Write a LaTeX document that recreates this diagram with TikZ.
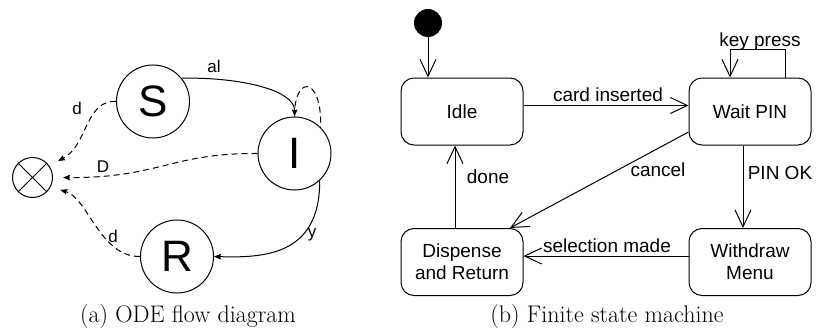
\documentclass[tikz,border=0pt]{standalone}
\usepackage{fontspec}
\newfontfamily\arialf{Liberation Sans}
\usetikzlibrary{arrows.meta}
\begin{document}
\begin{tikzpicture}[x=1pt,y=-1pt,
  lbl/.style={font=\arialf\fontsize{17}{20}\selectfont, inner sep=0pt},
  big/.style={circle, draw, line width=1pt, minimum size=73pt, inner sep=0pt, font=\arialf\fontsize{44}{44}\selectfont},
  flow/.style={line width=1pt, -{Stealth[length=7pt,width=5.5pt,inset=1pt]}},
  dflow/.style={flow, dash pattern=on 6pt off 4pt, shorten >=10pt},
  dloop/.style={line width=1pt, dash pattern=on 6pt off 4pt},
  state/.style={draw, rounded corners=13pt, line width=1pt, minimum width=122pt, minimum height=67pt, align=center, font=\arialf\fontsize{19}{22}\selectfont},
  trans/.style={line width=1pt, -{Straight Barb[length=17pt,width=16pt]}},
  tlbl/.style={font=\arialf\fontsize{19}{22}\selectfont, inner sep=0pt},
  captext/.style={font=\fontsize{24}{28}\selectfont, inner sep=0pt, anchor=base}]
\useasboundingbox (0,0) rectangle (816,329);

% ---------- (a) ODE flow diagram ----------
\node[big] (S) at (153,101.5) {S};
\node[big] (I) at (294.5,153.5) {I};
\node[big] (R) at (177,256.5) {R};
\node[circle, draw, line width=1pt, minimum size=40pt, inner sep=0pt] (X) at (32.5,177.5) {};
\draw[line width=1pt] (X.45) -- (X.225) (X.135) -- (X.315);

\draw[flow] (S.39) .. controls (240,77) and (295,90) .. (I.north);
\draw[dloop] (I.north) .. controls (294,75) and (322,75) .. (I.45);
\draw[dflow] (S.west) .. controls (85,100) and (88,145) .. (X.35);
\draw[dflow] (I.west) .. controls (170,153) and (160,178) .. (X.0);
\draw[dflow] (R.west) .. controls (100,257) and (88,198) .. (X.-28);
\draw[flow] (I.-47) .. controls (320,255) and (265,258) .. (R.east);

\node[lbl] (lal) at (214,66) {al};
\node[lbl] (ld1) at (77,108) {d};
\node[lbl] (lD) at (103,167) {D};
\node[lbl] (ld2) at (113,236) {d};
\node[lbl] (ly) at (312,235) {y};

\node[captext] (capa) at (188,322.5) {(a) ODE flow diagram};

% ---------- (b) Finite state machine ----------
\node[circle, fill, minimum size=28pt, inner sep=0pt] (init) at (428,23) {};
\node[state] (idle) at (462,111.5) {Idle};
\node[state] (wait) at (750,111.5) {Wait PIN};
\node[state] (disp) at (462,262) {Dispense\\and Return};
\node[state] (menu) at (750,262) {Withdraw\\Menu};

\draw[trans] (init) -- (init |- idle.north);
\draw[trans] ([yshift=6pt]idle.east) -- ([yshift=6pt]wait.west);
\draw[trans] ([xshift=35pt]wait.north) -- ++(0,-28) -| ([xshift=-20pt]wait.north);
\draw[trans] ([yshift=-20.5pt]wait.west) -- ([xshift=48pt]disp.north);
\draw[trans] ([xshift=-7pt]wait.south) -- ([xshift=-7pt]menu.north);
\draw[trans] ([yshift=6pt]menu.west) -- ([yshift=6pt]disp.east);
\draw[trans] ([xshift=-7pt]disp.north) -- ([xshift=-7pt]idle.south);

\node[tlbl] (lcard) at (608,95) {card inserted};
\node[tlbl] (lkey) at (760,42) {key press};
\node[tlbl] (lcancel) at (658,170) {cancel};
\node[tlbl] (lpin) at (780,173) {PIN OK};
\node[tlbl] (ldone) at (488,177) {done};
\node[tlbl] (lsel) at (607,246) {selection made};

\node[captext] (capb) at (607,322.5) {(b) Finite state machine};
\end{tikzpicture}
\end{document}
